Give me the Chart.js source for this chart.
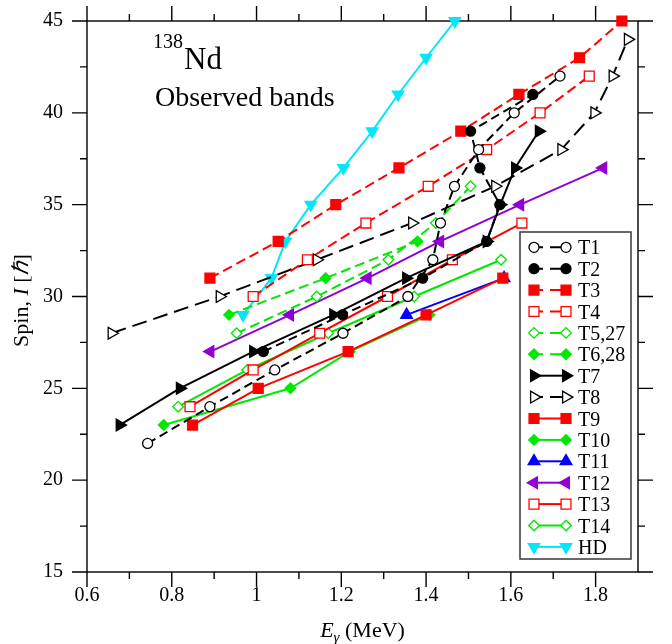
<!DOCTYPE html>
<html><head><meta charset="utf-8">
<script src="https://cdn.jsdelivr.net/npm/chart.js@4/dist/chart.umd.min.js"></script>
<style>html,body{margin:0;padding:0;background:#fff}</style>
</head><body>
<canvas id="c" width="672" height="644" style="display:block;width:672px;height:644px"></canvas>
<script>
// ---- data (Eγ in MeV, spin I in ħ) ----
const T1_E  = [0.743,0.890,1.043,1.204,1.357,1.416,1.434,1.467,1.524,1.608,1.716];
const T1_I  = [22,24,26,28,30,32,34,36,38,40,42];
const T2_E  = [1.016,1.203,1.392,1.543,1.574,1.527,1.505,1.652];
const T2_I  = [27,29,31,33,35,37,39,41];
const T3_E  = [0.890,1.051,1.187,1.336,1.482,1.619,1.762,1.862];
const T3_I  = [31,33,35,37,39,41,43,45];
const T4_E  = [0.992,1.120,1.258,1.405,1.543,1.669,1.785];
const T4_I  = [30,32,34,36,38,40,42];
const T5_E  = [0.953,1.142,1.311,1.423,1.505];
const T5_I  = [28,30,32,34,36];
const T6_E  = [0.935,1.163,1.380];
const T6_I  = [29,31,33];
const T7_E  = [0.677,0.819,0.992,1.181,1.353,1.543,1.575,1.610,1.666];
const T7_I  = [23,25,27,29,31,33,35,37,39];
const T8_E  = [0.658,0.913,1.142,1.367,1.563,1.719,1.797,1.840,1.876];
const T8_I  = [28,30,32,34,36,38,40,42,44];
const T9_E  = [0.849,1.004,1.216,1.400,1.581];
const T9_I  = [23,25,27,29,31];
const T10_E = [0.781,1.080,1.220,1.408];
const T10_I = [23,25,27,29];
const T11_E = [1.354,1.584];
const T11_I = [29,31];
const T12_E = [0.891,1.079,1.262,1.433,1.622,1.818];
const T12_I = [27,29,31,33,35,37];
const T13_E = [0.843,0.992,1.149,1.309,1.462,1.626];
const T13_I = [24,26,28,30,32,34];
const T14_E = [0.815,0.978,1.169,1.372,1.577];
const T14_I = [24,26,28,30,32];
const HD_E  = [0.968,1.035,1.068,1.128,1.205,1.273,1.334,1.400,1.468];
const HD_I  = [29,31,33,35,37,39,41,43,45];
const bandNames = ['T1','T2','T3','T4','T5,27','T6,28','T7','T8','T9','T10','T11','T12','T13','T14','HD'];
const X_MIN = 0.6, X_MAX = 1.9, Y_MIN = 15, Y_MAX = 45;

// ---- styles ----
const RED='#ff0000', GRN='#00e800', BLK='#000000', BLU='#0000ff', PUR='#9000d0', CYN='#00e8f8';
const SHORT=[9,5], MED=[10,5], LONG=[15,7];
const mk = {
  circle:{pointStyle:'circle',rot:0,r:5},
  square:{pointStyle:'rect',rot:0,r:7},
  diamond:{pointStyle:'rectRot',rot:0,r:5.3},
  triR:{pointStyle:'triangle',rot:90,r:6.8},
  triL:{pointStyle:'triangle',rot:-90,r:6.8},
  triU:{pointStyle:'triangle',rot:0,r:6.8},
  triD:{pointStyle:'triangle',rot:180,r:6.6}
};
function band(label,E,I,color,m,filled,dash){
  return {
    label, data:E.map((e,i)=>({x:e,y:I[i]})),
    showLine:true, fill:false, tension:0, clip:false,
    borderColor:color, borderWidth:2, borderDash:dash||[],
    pointStyle:m.pointStyle, pointRotation:m.rot, pointRadius:m.r, pointHoverRadius:m.r,
    pointBackgroundColor: filled?color:'#ffffff', pointBorderColor:color,
    pointBorderWidth:1.3, backgroundColor: filled?color:'#ffffff'
  };
}
const datasets = [
  band(bandNames[0],T1_E,T1_I,BLK,mk.circle,false,SHORT),
  band(bandNames[1],T2_E,T2_I,BLK,mk.circle,true,SHORT),
  band(bandNames[2],T3_E,T3_I,RED,mk.square,true,MED),
  band(bandNames[3],T4_E,T4_I,RED,mk.square,false,MED),
  band(bandNames[4],T5_E,T5_I,GRN,mk.diamond,false,MED),
  band(bandNames[5],T6_E,T6_I,GRN,mk.diamond,true,MED),
  band(bandNames[6],T7_E,T7_I,BLK,mk.triR,true,null),
  band(bandNames[7],T8_E,T8_I,BLK,mk.triR,false,LONG),
  band(bandNames[8],T9_E,T9_I,RED,mk.square,true,null),
  band(bandNames[9],T10_E,T10_I,GRN,mk.diamond,true,null),
  band(bandNames[10],T11_E,T11_I,BLU,mk.triU,true,null),
  band(bandNames[11],T12_E,T12_I,PUR,mk.triL,true,null),
  band(bandNames[12],T13_E,T13_I,RED,mk.square,false,null),
  band(bandNames[13],T14_E,T14_I,GRN,mk.diamond,false,null),
  band(bandNames[14],HD_E,HD_I,CYN,mk.triD,true,null)
];

const SERIF = "'Liberation Serif','Times New Roman',serif";
Chart.defaults.font.family = SERIF;
Chart.defaults.font.size = 20;
Chart.defaults.color = '#000';

function drawMarker(ctx, ds, x, y){
  ctx.save();
  ctx.setLineDash([]);
  ctx.fillStyle = ds.pointBackgroundColor;
  ctx.strokeStyle = ds.pointBorderColor;
  ctx.lineWidth = ds.pointBorderWidth;
  const o = {pointStyle:ds.pointStyle, rotation:ds.pointRotation, radius:ds.pointRadius, borderWidth:ds.pointBorderWidth};
  if (Chart.helpers && Chart.helpers.drawPoint) { Chart.helpers.drawPoint(ctx, o, x, y); }
  else { ctx.beginPath(); ctx.arc(x,y,o.radius,0,Math.PI*2); ctx.fill(); ctx.stroke(); }
  ctx.restore();
}

const framePlugin = {
  id:'frame',
  beforeDatasetsDraw(chart){
    const {ctx, chartArea:a, scales:{x, y}} = chart;
    ctx.save();
    ctx.strokeStyle = '#000';
    ctx.lineWidth = 1.4;
    ctx.strokeRect(a.left, a.top, a.right-a.left, a.bottom-a.top);
    ctx.beginPath();
    x.ticks.forEach(t=>{
      const px = x.getPixelForValue(t.value);
      const major = Math.round(t.value*10)%2===0;
      if (!major && (px > a.right-1 || px < a.left+1)) return;
      const L = major?15:7;
      ctx.moveTo(px, a.bottom); ctx.lineTo(px, a.bottom+L);
      ctx.moveTo(px, a.top); ctx.lineTo(px, a.top-L);
    });
    y.ticks.forEach(t=>{
      const py = y.getPixelForValue(t.value);
      const major = Math.round(t.value*2)%10===0;
      const L = major?15:7;
      ctx.moveTo(a.left, py); ctx.lineTo(a.left-L, py);
      ctx.moveTo(a.right, py); ctx.lineTo(a.right+L, py);
    });
    ctx.stroke();
    ctx.restore();
  }
};

const textPlugin = {
  id:'texts',
  afterDraw(chart){
    const {ctx, chartArea:a} = chart;
    ctx.save();
    ctx.fillStyle = '#000';
    ctx.textBaseline = 'alphabetic';
    ctx.textAlign = 'left';
    // nucleus label
    ctx.font = '20px '+SERIF;
    ctx.fillText('138', 153, 48);
    ctx.font = '31px '+SERIF;
    ctx.fillText('Nd', 184, 69);
    ctx.font = '28px '+SERIF;
    ctx.fillText('Observed bands', 155, 106);
    // x-axis title
    const cx = (a.left+a.right)/2, by = 637;
    const fN = '22px '+SERIF, fI = 'italic 22px '+SERIF, fS = 'italic 15px '+SERIF;
    ctx.font = fI; const wE = ctx.measureText('E').width;
    ctx.font = fS; const wG = ctx.measureText('\u03b3').width;
    ctx.font = fN; const wR = ctx.measureText(' (MeV)').width;
    let sx = cx - (wE+wG+wR)/2;
    ctx.font = fI; ctx.fillText('E', sx, by); sx += wE;
    ctx.font = fS; ctx.fillText('\u03b3', sx, by+5); sx += wG;
    ctx.font = fN; ctx.fillText(' (MeV)', sx, by);
    // y-axis title
    const parts = [['Spin, ',fN],['I',fI],[' [',fN],['\u210F',fI],[']',fN]];
    let tw = 0; parts.forEach(p=>{ctx.font=p[1]; tw+=ctx.measureText(p[0]).width;});
    ctx.translate(28, (a.top+a.bottom)/2+4);
    ctx.rotate(-Math.PI/2);
    let tx = -tw/2;
    parts.forEach(p=>{ctx.font=p[1]; ctx.fillText(p[0], tx, 0); tx+=ctx.measureText(p[0]).width;});
    ctx.restore();
  }
};

const legendPlugin = {
  id:'bandLegend',
  afterDatasetsDraw(chart){
    const ctx = chart.ctx;
    const bx=520, by=232, bw=111, bh=327;
    ctx.save();
    ctx.fillStyle='#fff';
    ctx.fillRect(bx,by,bw,bh);
    ctx.strokeStyle='#444'; ctx.lineWidth=1.6;
    ctx.strokeRect(bx,by,bw,bh);
    const x0=534, x1=566, step=21.4;
    chart.data.datasets.forEach((ds,i)=>{
      const cy = 247.3 + i*step;
      ctx.save();
      ctx.strokeStyle = ds.borderColor; ctx.lineWidth = ds.borderWidth;
      ctx.setLineDash([]);
      ctx.beginPath();
      if (ds.borderDash && ds.borderDash.length){
        ctx.moveTo(x0,cy); ctx.lineTo(x0+9,cy);
        ctx.moveTo(x0+16,cy); ctx.lineTo(x1,cy);
      } else { ctx.moveTo(x0,cy); ctx.lineTo(x1,cy); }
      ctx.stroke();
      ctx.restore();
      drawMarker(ctx, ds, x0, cy);
      drawMarker(ctx, ds, x1, cy);
      ctx.fillStyle='#000'; ctx.font='20px '+SERIF;
      ctx.textAlign='left'; ctx.textBaseline='alphabetic';
      ctx.fillText(ds.label, 578, cy+7);
    });
    ctx.restore();
  }
};

new Chart(document.getElementById('c'), {
  type:'scatter',
  data:{datasets},
  options:{
    responsive:false, devicePixelRatio:1, animation:false,
    layout:{padding:{left:0, right:34, top:21, bottom:0}},
    plugins:{legend:{display:false}, tooltip:{enabled:false}},
    scales:{
      x:{type:'linear', min:X_MIN, max:X_MAX,
        grid:{display:false, drawTicks:false}, border:{display:false},
        ticks:{stepSize:0.1, autoSkip:false, maxRotation:0, padding:12,
          callback:(v)=>{const k=Math.round(v*10); return k%2===0 ? String(k/10) : '';}},
        afterFit:(s)=>{s.height=72; s.paddingLeft=0; s.paddingRight=0;}
      },
      y:{type:'linear', min:Y_MIN, max:Y_MAX,
        grid:{display:false, drawTicks:false}, border:{display:false},
        ticks:{stepSize:2.5, autoSkip:false, padding:24,
          callback:(v)=>{return (Math.round(v*2)%10===0) ? String(v) : '';}},
        afterFit:(s)=>{s.width=87; s.paddingTop=0; s.paddingBottom=0;}
      }
    }
  },
  plugins:[framePlugin, legendPlugin, textPlugin]
});
</script>
</body></html>
